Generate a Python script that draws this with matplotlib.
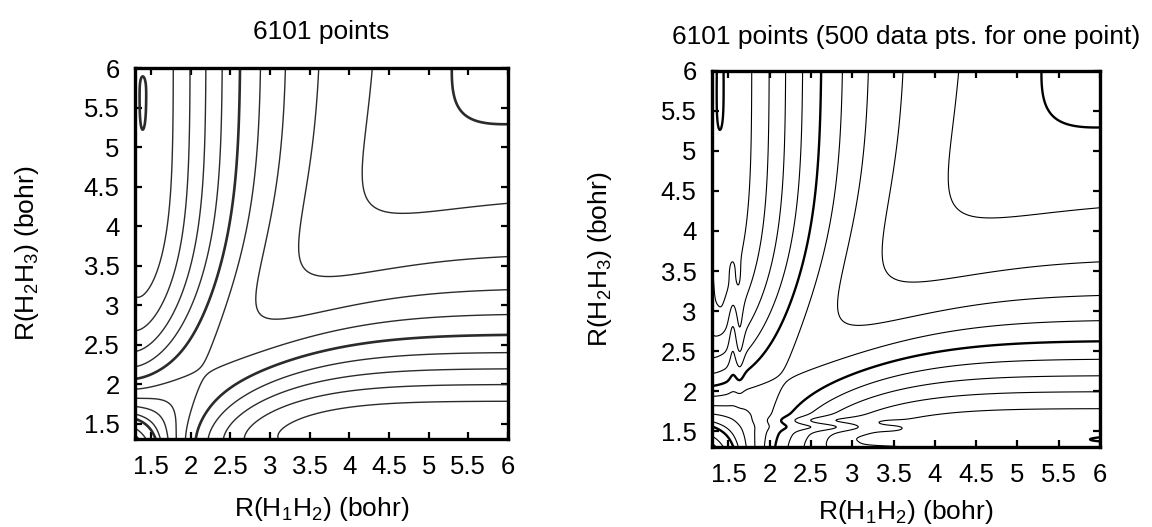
import numpy as np
import matplotlib
matplotlib.use('Agg')
import matplotlib.pyplot as plt
from matplotlib.ticker import FuncFormatter

plt.rcParams['font.family'] = ['Liberation Sans', 'DejaVu Sans']
plt.rcParams['mathtext.default'] = 'regular'

# model parameters of the H3 surface (reduced units, H2 well depth = 1)
morse_re = 1.40      # bohr
morse_beta = 1.0     # 1/bohr
coulomb_frac = 0.45
rep_amp = 7.35
rep_alpha = 1.65     # 1/bohr
bend_angle = 40.0    # deg

# contour levels
levels_thin = [0.1, 0.2, 0.3, 0.4, 0.6, 0.7, 0.8, 0.9, 1.1, 1.2]
levels_thick = [0.0, 0.5, 0.965]

# local deviations of each fit (centre x, centre y, height, width x, width y)
left_bx = [1.42, 1.40, 5.50]
left_by = [6.05, 4.85, 1.40]
left_amp = [0.004, 0.004, 0.006]
left_wx = [0.10, 0.10, 0.80]
left_wy = [0.12, 0.25, 0.12]

right_bx = [1.40, 1.55, 1.64, 1.54, 1.62, 1.28, 1.41,
            2.70, 2.60, 3.50, 3.40, 3.45, 3.30, 5.30]
right_by = [4.90, 2.70, 2.60, 3.52, 3.40, 3.35, 3.30,
            1.55, 1.64, 1.53, 1.61, 1.28, 1.41, 1.40]
right_amp = [0.004, 0.09, -0.07, 0.04, -0.03, 0.09, -0.02,
             0.09, -0.07, 0.04, -0.03, 0.09, -0.02, 0.005]
right_wx = [0.10, 0.035, 0.035, 0.03, 0.03, 0.03, 0.03,
            0.35, 0.35, 0.15, 0.15, 0.35, 0.30, 0.40]
right_wy = [0.25, 0.35, 0.35, 0.12, 0.15, 0.35, 0.30,
            0.035, 0.035, 0.03, 0.03, 0.03, 0.03, 0.12]

r_min, r_max = 1.3, 6.0
ticks = [1.5, 2, 2.5, 3, 3.5, 4, 4.5, 5, 5.5, 6]


def binding(r):
    a = morse_beta * (r - morse_re)
    return 2 * np.exp(-a) - np.exp(-2 * a)


def surface(X, Y, bx, by, amp, wx, wy):
    b1, b2 = binding(X), binding(Y)
    r13 = np.sqrt(X**2 + Y**2 - 2 * X * Y * np.cos(np.radians(bend_angle)))
    E = (1 - coulomb_frac * (b1 + b2)
         - (1 - coulomb_frac) * np.sqrt(b1**2 + b2**2 - b1 * b2)
         + rep_amp * np.exp(-rep_alpha * r13))
    for cx, cy, h, sx, sy in zip(bx, by, amp, wx, wy):
        E = E + h * np.exp(-0.5 * (((X - cx) / sx)**2 + ((Y - cy) / sy)**2))
    return E


g = np.linspace(r_min, r_max, 700)
X, Y = np.meshgrid(g, g)
E_left = surface(X, Y, left_bx, left_by, left_amp, left_wx, left_wy)
E_right = surface(X, Y, right_bx, right_by, right_amp, right_wx, right_wy)

fig = plt.figure(figsize=(11.52, 5.27), dpi=100)
ax1 = fig.add_axes([0.1172, 0.1664, 0.3238, 0.7040])
ax2 = fig.add_axes([0.6180, 0.1512, 0.3368, 0.7146])

panels = [
    (ax1, E_left, "6101 points", '#2b2b2b', 1.0, 1.9, 21, -0.150),
    (ax2, E_right, "6101 points (500 data pts. for one point)", 'black', 0.8, 1.7, 19.5, -0.135),
]

for ax, E, title, col, lw_thin, lw_thick, pad, xl in panels:
    ax.contour(X, Y, E, levels=levels_thin, colors=col, linewidths=lw_thin)
    ax.contour(X, Y, E, levels=levels_thick, colors=col, linewidths=lw_thick)
    ax.set_xlim(r_min, r_max)
    ax.set_ylim(r_min, r_max)
    ax.set_xticks(ticks)
    ax.set_yticks(ticks)
    fmt = FuncFormatter(lambda v, p: f"{v:g}")
    ax.xaxis.set_major_formatter(fmt)
    ax.yaxis.set_major_formatter(fmt)
    ax.tick_params(direction='in', length=5, width=1.6, top=True, right=True,
                   labelsize=18.5, pad=11)
    for s in ax.spines.values():
        s.set_linewidth(2.4)
    ax.set_title(title, fontsize=19, pad=pad)
    ax.set_xlabel(r"R(H$_1$H$_2$) (bohr)", fontsize=19)
    ax.set_ylabel(r"R(H$_2$H$_3$) (bohr)", fontsize=19)
    ax.xaxis.set_label_coords(0.5, xl)
    ax.yaxis.set_label_coords(-0.252, 0.5)

fig.savefig("out.png", dpi=100, facecolor="white")
